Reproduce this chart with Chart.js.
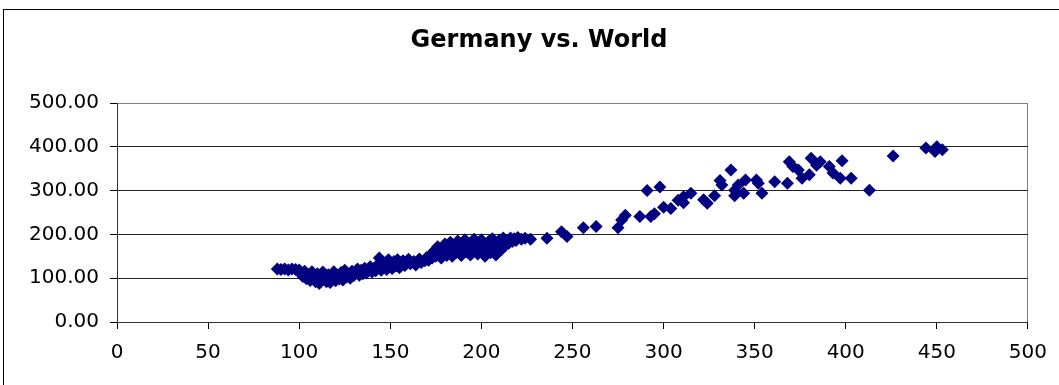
<!DOCTYPE html>
<html>
<head>
<meta charset="utf-8">
<title>Germany vs. World</title>
<script src="https://cdn.jsdelivr.net/npm/chart.js@4/dist/chart.umd.min.js"></script>
<style>
  html, body { margin: 0; padding: 0; background: #ffffff; }
  #wrap { width: 1059px; height: 385px; }
</style>
</head>
<body>
<div id="wrap"><canvas id="chart" width="1059" height="385"></canvas></div>
<script>
// World index (x) and Germany index (y), one pair per observation
const worldIndex = [
  88, 90, 92, 94, 96, 98, 100, 101, 102, 103, 104, 105, 106, 107, 108, 109, 110, 111, 112, 113,
  114, 115, 116, 117, 118, 119, 120, 121, 122, 123, 124, 125, 126, 127, 128, 129, 130, 131, 132, 133,
  134, 135, 136, 137, 138, 139, 140, 141, 142, 143, 144, 145, 146, 147, 148, 149, 150, 151, 152, 153,
  154, 155, 156, 157, 158, 160, 161, 163, 164, 166, 167, 169, 170, 171, 172, 173, 174, 175, 176, 177,
  178, 179, 180, 181, 182, 183, 184, 185, 186, 187, 188, 189, 190, 191, 192, 193, 194, 195, 196, 197,
  198, 199, 200, 201, 202, 203, 204, 205, 206, 207, 208, 209, 210, 211, 212, 213, 214, 215, 216, 217,
  218, 219, 220, 222, 224,
  227, 236, 244, 247, 256, 263, 275, 277, 279, 287, 291, 293, 295, 298, 300, 304, 308, 311, 311, 315,
  322, 324, 328, 331, 332, 337, 339, 339, 341, 344, 345, 351, 352, 354, 361, 368, 369, 371, 374, 376,
  380, 381, 384, 386, 391, 393, 397, 398, 403, 413, 426, 444, 449, 450, 453
];
const germanyIndex = [
  121, 120, 121, 119, 121, 120, 119, 110, 104, 116, 99, 108, 95, 115, 101, 92, 110, 88, 97, 114,
  103, 92, 108, 90, 100, 115, 94, 106, 98, 113, 96, 118, 103, 109, 100, 116, 106, 112, 121, 107,
  118, 110, 123, 112, 119, 126, 114, 122, 117, 130, 146, 118, 137, 126, 120, 142, 130, 122, 138, 128,
  142, 124, 134, 140, 129, 143, 133, 138, 130, 144, 136, 140, 147, 141, 153, 146, 162, 150, 172, 158,
  146, 168, 178, 152, 163, 182, 150, 172, 158, 185, 166, 152, 178, 188, 160, 171, 153, 183, 189, 165,
  155, 177, 188, 160, 150, 172, 184, 158, 190, 168, 153, 180, 187, 165, 192, 175, 186, 180, 192, 184,
  190, 186, 193, 189, 191,
  189, 191, 206, 195, 215, 218, 215, 233, 244, 241, 300, 241, 247, 308, 262, 259, 278, 272, 286, 294,
  279, 271, 288, 323, 313, 347, 288, 301, 313, 294, 324, 324, 317, 294, 320, 317, 366, 355, 347, 328,
  336, 374, 358, 366, 355, 340, 328, 368, 328, 301, 379, 397, 389, 400, 393
];
const xTicks = [0, 50, 100, 150, 200, 250, 300, 350, 400, 450, 500];
const yTicks = [0, 100, 200, 300, 400, 500];
const chartTitle = 'Germany vs. World';

const points = worldIndex.map((x, i) => ({ x: x, y: germanyIndex[i] }));

// white page, the thin outer chart frame, and the heading centred on the frame
const framePlugin = {
  id: 'frame',
  beforeDraw(chart) {
    const ctx = chart.ctx;
    ctx.save();
    ctx.fillStyle = '#ffffff';
    ctx.fillRect(0, 0, chart.width, chart.height);
    ctx.strokeStyle = '#000000';
    ctx.lineWidth = 1;
    ctx.strokeRect(3.5, 9.5, chart.width + 10, chart.height + 10);
    ctx.fillStyle = '#000000';
    ctx.font = 'bold 24px "DejaVu Sans"';
    ctx.textAlign = 'center';
    ctx.textBaseline = 'middle';
    ctx.fillText(chartTitle, 539, 41);
    ctx.restore();
  }
};

new Chart(document.getElementById('chart'), {
  type: 'scatter',
  data: {
    datasets: [{
      data: points,
      pointStyle: 'rectRot',
      pointRadius: 6.5,
      pointHoverRadius: 6.5,
      borderWidth: 0,
      backgroundColor: '#000080',
      borderColor: '#000080'
    }]
  },
  options: {
    responsive: false,
    animation: false,
    layout: { padding: { left: 0, right: 30, top: 103, bottom: 0 } },
    plugins: {
      legend: { display: false },
      tooltip: { enabled: false },
      title: { display: false }
    },
    scales: {
      x: {
        type: 'linear',
        min: xTicks[0],
        max: xTicks[xTicks.length - 1],
        afterBuildTicks(scale) { scale.ticks = xTicks.map(v => ({ value: v })); },
        afterFit(scale) { scale.height = 63; },
        ticks: {
          color: '#000000',
          font: { family: 'DejaVu Sans', size: 20 },
          padding: 12,
          maxRotation: 0,
          autoSkip: false
        },
        grid: {
          drawOnChartArea: true,
          color: c => (c.tick && c.tick.value === 500) ? '#808080' : 'rgba(0,0,0,0)',
          tickColor: '#000000',
          tickLength: 7,
          lineWidth: 1
        },
        border: { color: '#333333', width: 1 }
      },
      y: {
        type: 'linear',
        min: yTicks[0],
        max: yTicks[yTicks.length - 1],
        afterBuildTicks(scale) { scale.ticks = yTicks.map(v => ({ value: v })); },
        afterFit(scale) { scale.width = 117; },
        ticks: {
          color: '#000000',
          font: { family: 'DejaVu Sans', size: 20 },
          padding: 11,
          callback: v => Number(v).toFixed(2)
        },
        grid: {
          color: c => (c.tick && c.tick.value === 500) ? '#808080' : '#222222',
          tickColor: '#000000',
          tickLength: 7,
          lineWidth: 1
        },
        border: { color: '#333333', width: 1 }
      }
    }
  },
  plugins: [framePlugin]
});
</script>
</body>
</html>
